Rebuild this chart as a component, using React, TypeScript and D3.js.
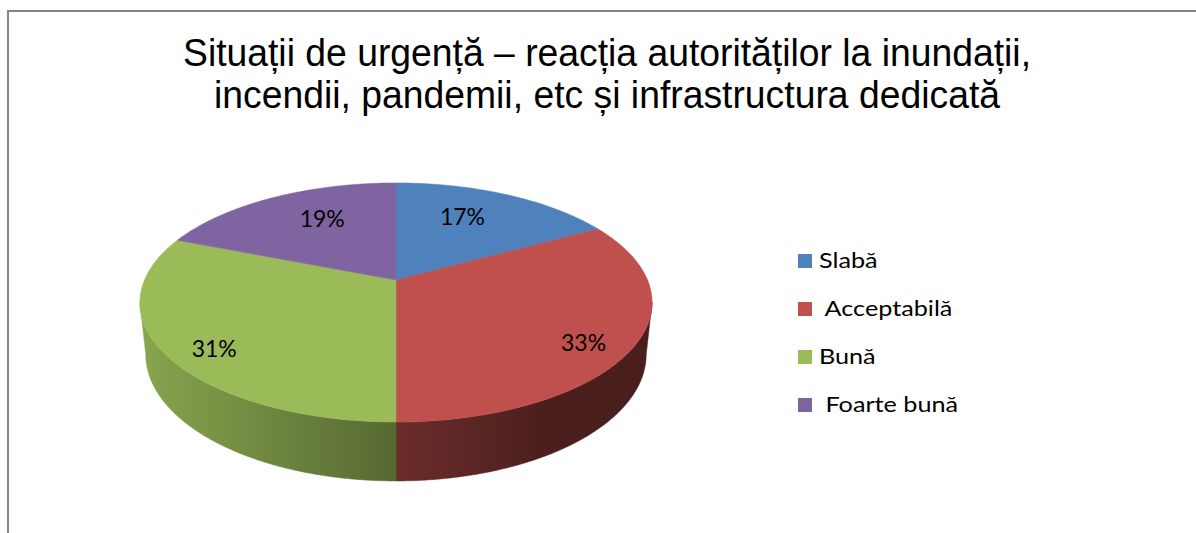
import React from 'react';
import * as d3 from 'd3';

const categories = ['Slabă', 'Acceptabilă', 'Bună', 'Foarte bună'];
const legendLabels = ['Slabă', ' Acceptabilă', 'Bună', ' Foarte bună'];
const values = [17, 33, 31, 19];
const colors = ['#4F81BD', '#C0504D', '#9BBB59', '#8064A2'];
const titleLines = [
  'Situații de urgență – reacția autorităților la inundații,',
  'incendii, pandemii, etc și infrastructura dedicată',
];

// 3D camera for the pie
const CX = 396;
const CY = 280;
const F = 1189;
const DIST = 4.727;
const SIN_A = 0.4585;
const COS_A = 0.8887;
const THICK = 0.2346;

function project(u: number, v: number, y: number): [number, number] {
  const depth = DIST - y * SIN_A + v * COS_A;
  const up = y * COS_A + v * SIN_A;
  return [CX + (F * u) / depth, CY - (F * up) / depth];
}

function arcPoints(a: number, b: number, y: number, r = 1): [number, number][] {
  const n = Math.max(2, Math.ceil(Math.abs(b - a) / (Math.PI / 360)) + 1);
  const pts: [number, number][] = [];
  for (let i = 0; i < n; i++) {
    const t = a + ((b - a) * i) / (n - 1);
    pts.push(project(r * Math.sin(t), r * Math.cos(t), y));
  }
  return pts;
}

export default function App() {
  const W = 1196;
  const H = 533;
  const arcs = d3.pie<number>().sort(null).value((d) => d)(values);
  const line = d3.line<[number, number]>().x((d) => d[0]).y((d) => d[1]);

  // silhouette angles of the lateral surface
  const cSil = -COS_A / (DIST + (THICK * SIN_A) / 2);
  const silR = Math.acos(cSil);
  const silL = 2 * Math.PI - silR;

  const ell = arcPoints(0, 2 * Math.PI, 0);
  const xMin = d3.min(ell, (d) => d[0]) as number;
  const xMax = d3.max(ell, (d) => d[0]) as number;

  const shadeStops: [number, number][] = [
    [0, 0.12],
    [0.5, 0.44],
    [0.8, 0.62],
    [1, 0.62],
  ];

  const sides = arcs
    .map((a, i) => {
      const s = Math.max(a.startAngle, silR);
      const e = Math.min(a.endAngle, silL);
      if (e <= s) return null;
      const top = arcPoints(s, e, 0);
      const bottom = arcPoints(e, s, -THICK);
      return { i, d: line([...top, ...bottom]) + 'Z' };
    })
    .filter(Boolean) as { i: number; d: string }[];

  const tops = arcs.map((a, i) => {
    const pts = [project(0, 0, 0), ...arcPoints(a.startAngle, a.endAngle, 0)];
    return { i, d: line(pts) + 'Z' };
  });

  const labels = arcs.map((a, i) => {
    const m = (a.startAngle + a.endAngle) / 2;
    const front = Math.cos(m) < 0;
    const ru = front ? 0.8 : 0.58;
    const rv = front ? 0.8 : 0.72;
    const [x, y] = project(ru * Math.sin(m), rv * Math.cos(m), 0);
    const pct = Math.round((a.value / d3.sum(values)) * 100);
    return { i, x, y: y + (front ? 11 : 0), text: `${pct}%` };
  });

  const legendX = 798;
  const legendY0 = 261;
  const legendStep = 48;

  return (
    <svg
      width={W}
      height={H}
      style={{ position: 'absolute', left: 0, top: 0, background: '#fff' }}
    >
      <rect x={0} y={0} width={W} height={H} fill="#fff" />
      <path d={`M8,${H} L8,11 L${W},11`} fill="none" stroke="#868686" strokeWidth={2} />

      {titleLines.map((t, i) => (
        <text
          key={i}
          x={607}
          y={66 + i * 42}
          textAnchor="middle"
          fontFamily="'Liberation Sans', Arial, sans-serif"
          fontSize={38}
          textLength={i === 0 ? 848 : 786}
          lengthAdjust="spacingAndGlyphs"
          fill="#000"
        >
          {t}
        </text>
      ))}

      <defs>
        {colors.map((c, i) => (
          <linearGradient
            key={i}
            id={`side${i}`}
            gradientUnits="userSpaceOnUse"
            x1={xMin}
            x2={xMax}
            y1={0}
            y2={0}
          >
            {shadeStops.map(([o, k], j) => (
              <stop key={j} offset={o} stopColor={d3.interpolateRgb(c, '#000')(k)} />
            ))}
          </linearGradient>
        ))}
      </defs>

      {sides.map((s) => (
        <path key={`s${s.i}`} d={s.d} fill={`url(#side${s.i})`} stroke={`url(#side${s.i})`} strokeWidth={0.5} />
      ))}
      {tops.map((t) => (
        <path key={`t${t.i}`} d={t.d} fill={colors[t.i]} stroke={colors[t.i]} strokeWidth={0.5} />
      ))}

      {labels.map((l) => (
        <text
          key={`l${l.i}`}
          x={l.x}
          y={l.y}
          textAnchor="middle"
          dominantBaseline="central"
          fontFamily="Lato, 'Open Sans', sans-serif"
          fontSize={23}
          fill="#000"
        >
          {l.text}
        </text>
      ))}

      {categories.map((c, i) => (
        <g key={c} transform={`translate(${legendX},${legendY0 + i * legendStep})`}>
          <rect x={0} y={-7} width={14} height={14} fill={colors[i]} />
          <text
            x={0}
            y={7}
            transform="translate(21,0) scale(1.2,1)"
            fontFamily="Lato, 'Open Sans', sans-serif"
            fontSize={21}
            fill="#000"
            style={{ whiteSpace: 'pre' }}
          >
            {legendLabels[i]}
          </text>
        </g>
      ))}
    </svg>
  );
}
